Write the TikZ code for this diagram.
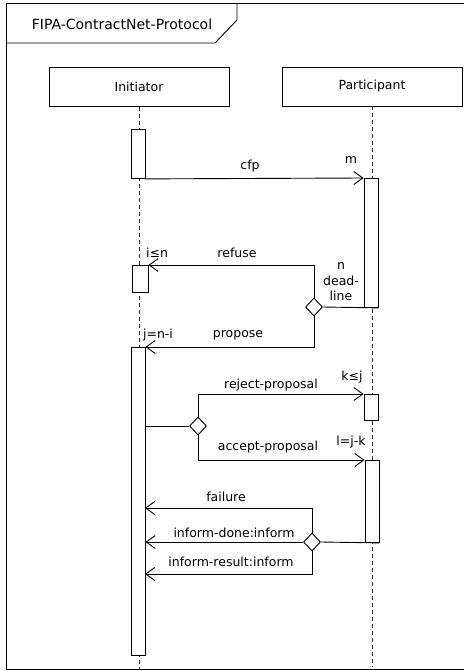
\documentclass[tikz,border=0pt]{standalone}
\usepackage{fontspec}
\setmainfont{DejaVu Sans}
\usetikzlibrary{arrows.meta,shapes.geometric}
\tikzset{
    lifebox/.style={draw,minimum width=180pt,minimum height=39pt,inner sep=0pt},
    actbox/.style={draw,fill=white,anchor=north,minimum width=14pt,inner sep=0pt},
    choice/.style={draw,fill=white,diamond,minimum width=17pt,minimum height=18pt,inner sep=0pt},
    msg/.style={-{Straight Barb[length=9pt,width=13pt]}},
    lifeline/.style={dash pattern=on 4pt off 3pt,black!80}
}
\begin{document}
\begin{tikzpicture}[x=1pt,y=-1pt,line width=0.9pt,font=\fontsize{12.5}{15.5}\selectfont]
    \useasboundingbox (0,0) rectangle (463,671);
    \draw (470,3) -- (6,3) -- (6,669.5) -- (470,669.5);
    \draw (6,43) -- (215,43) -- (237,20) -- (237,3);
    \node[font=\fontsize{14}{16}\selectfont] (title) at (122,24) {FIPA-ContractNet-Protocol};

    \node[lifebox] (ini) at (139,87) {Initiator};
    \node[lifebox] (par) at (372,86.5) {Participant};
    \coordinate (iniend) at (139,670);
    \coordinate (parend) at (372,667);
    \draw[lifeline] (ini.south) -- (iniend);
    \draw[lifeline] (par.south) -- (parend);

    \node[actbox,minimum height=49pt] (a1) at (138,129) {};
    \node[actbox,minimum height=129pt] (p1) at (371,178) {};
    \node[actbox,minimum width=16pt,minimum height=27pt] (a2) at (140,265) {};
    \node[actbox,minimum height=308pt] (a3) at (138,347) {};
    \node[actbox,minimum height=26pt] (p2) at (371,394) {};
    \node[actbox,minimum height=82pt] (p3) at (372,460) {};

    \node[choice] (d1) at (314,307) {};
    \node[choice] (d2) at (198,426) {};
    \node[choice] (d3) at (312,542) {};
    \coordinate (failend) at (145,508);
    \coordinate (resend) at (145,574);

    \draw[msg] (a1.south east) -- (p1.north west);
    \draw[msg] (d1.north) |- (a2.north east);
    \draw (d1.east) -- (p1.south east);
    \draw[msg] (d1.south) |- (a3.north east);
    \draw (d2.west) -- (a3.east |- d2.west);
    \draw[msg] (d2.north) |- (p2.north west);
    \draw[msg] (d2.south) |- (p3.north west);
    \draw[msg] (d3.north) |- (failend);
    \draw[msg] (d3.west) -- (d3.west -| a3.east);
    \draw[msg] (d3.south) |- (resend);
    \draw (d3.east) -- (p3.south east);

    \node (cfp) at (250,166) {cfp};
    \node (m) at (351,160) {m};
    \node (ilen) at (157,253) {i≤n};
    \node (refuse) at (237,253) {refuse};
    \node[align=center] (deadline) at (341,282) {n\\dead-\\line};
    \node (jni) at (158,335) {j=n-i};
    \node (propose) at (238,335) {propose};
    \node (reject) at (271,385) {reject-proposal};
    \node (klej) at (352,377) {k≤j};
    \node (accept) at (268,447) {accept-proposal};
    \node (ljk) at (351,442) {l=j-k};
    \node (failure) at (226,497) {failure};
    \node (done) at (234,533) {inform-done:inform};
    \node (result) at (231,562) {inform-result:inform};
\end{tikzpicture}
\end{document}
